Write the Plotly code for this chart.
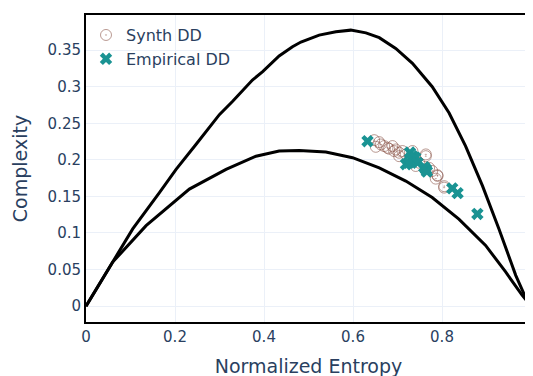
import plotly.graph_objects as go

# Upper (maximum complexity) curve
max_h = [0.0, 0.060, 0.105, 0.165, 0.2024, 0.247, 0.2997, 0.3296, 0.374, 0.397, 0.434, 0.464,
         0.483, 0.524, 0.5616, 0.595, 0.629, 0.659, 0.696, 0.7336, 0.778, 0.816, 0.853,
         0.891, 0.928, 0.9657, 0.9955, 1.0]
max_c = [0.0, 0.0602, 0.1056, 0.1553, 0.187, 0.221, 0.2618, 0.280, 0.309, 0.3207, 0.342, 0.3546,
         0.361, 0.3705, 0.375, 0.3773, 0.3736, 0.367, 0.3523, 0.332, 0.300, 0.264, 0.2188,
         0.1644, 0.1055, 0.0421, 0.0014, 0.0]

# Lower (minimum complexity) curve
min_h = [0.0, 0.060, 0.135, 0.18, 0.2323, 0.3147, 0.382, 0.434, 0.479, 0.539, 0.599, 0.659,
         0.7187, 0.778, 0.838, 0.898, 0.943, 0.980, 1.0]
min_c = [0.0, 0.0602, 0.110, 0.1327, 0.160, 0.187, 0.205, 0.212, 0.2129, 0.2106, 0.2029, 0.189,
         0.171, 0.1485, 0.119, 0.083, 0.0467, 0.015, 0.0]

# Synthetic DD
synth_h = [0.6476, 0.6588, 0.6513, 0.6626, 0.6775, 0.6887, 0.696, 0.7037, 0.711, 0.7187,
           0.7336, 0.7636, 0.7374, 0.7486, 0.771, 0.778, 0.786, 0.7897, 0.8047, 0.741,
           0.7037, 0.681, 0.670, 0.6925, 0.7636, 0.79, 0.805]
synth_c = [0.2269, 0.2242, 0.2178, 0.221, 0.2165, 0.2188, 0.2142, 0.2097, 0.212, 0.2074,
           0.212, 0.205, 0.2007, 0.196, 0.189, 0.1848, 0.1743, 0.179, 0.162, 0.1916,
           0.205, 0.2152, 0.2188, 0.212, 0.2074, 0.178, 0.164]

# Empirical DD
emp_h = [0.6326, 0.7336, 0.728, 0.735, 0.740, 0.719, 0.725, 0.745, 0.764, 0.760, 0.766,
         0.823, 0.835, 0.8795]
emp_c = [0.2255, 0.205, 0.210, 0.199, 0.203, 0.194, 0.196, 0.196, 0.187, 0.190, 0.184,
         0.161, 0.1545, 0.126]

fig = go.Figure()
fig.add_trace(go.Scatter(x=max_h, y=max_c, mode="lines", line=dict(color="black", width=3),
                         showlegend=False, hoverinfo="skip"))
fig.add_trace(go.Scatter(x=min_h, y=min_c, mode="lines", line=dict(color="black", width=3),
                         showlegend=False, hoverinfo="skip"))
fig.add_trace(go.Scatter(x=synth_h, y=synth_c, mode="markers", name="Synth DD",
                         marker=dict(symbol="circle-open-dot", size=11, color="#8c564b",
                                     opacity=0.6, line=dict(width=1))))
fig.add_trace(go.Scatter(x=emp_h, y=emp_c, mode="markers", name="Empirical DD",
                         marker=dict(symbol="x", size=11, color="#1a9393", line=dict(width=0))))

font_family = "Verdana, DejaVu Sans, sans-serif"
fig.update_layout(
    template="plotly_white",
    width=533, height=376,
    margin=dict(l=78, r=9, t=5, b=62),
    font=dict(family=font_family, color="#2a3f5f", size=15),
    legend=dict(x=0.0, y=0.99, xanchor="left", yanchor="top",
                font=dict(size=16), bgcolor="rgba(255,255,255,0)"),
)
fig.update_xaxes(title=dict(text="Normalized Entropy", font=dict(size=19)),
                 range=[0, 1], dtick=0.2, showline=True, linecolor="black", linewidth=2,
                 mirror=True, zeroline=False, tickfont=dict(size=15))
fig.update_yaxes(title=dict(text="Complexity", font=dict(size=19)),
                 range=[-0.0217, 0.398], dtick=0.05, showline=True, linecolor="black", linewidth=2,
                 mirror=True, zeroline=False, tickfont=dict(size=15))

fig.write_html("out.html")
